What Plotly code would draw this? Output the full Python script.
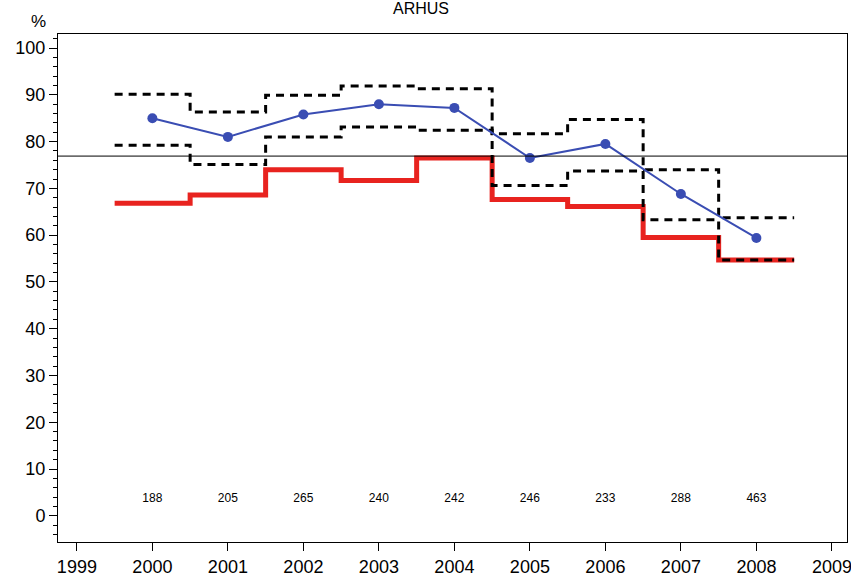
import plotly.graph_objects as go

years = [2000, 2001, 2002, 2003, 2004, 2005, 2006, 2007, 2008]
observed = [85.0, 81.0, 85.8, 88.0, 87.2, 76.5, 79.5, 68.8, 59.4]
upper = [90.1, 86.3, 89.9, 91.9, 91.3, 81.7, 84.7, 74.0, 63.7]
lower = [79.2, 75.1, 81.0, 83.1, 82.4, 70.6, 73.7, 63.3, 54.7]
expected = [66.8, 68.6, 74.0, 71.7, 76.5, 67.6, 66.1, 59.5, 54.7]
counts = [188, 205, 265, 240, 242, 246, 233, 288, 463]
reference = 76.9
count_y = 3.6
xticks = list(range(1999, 2010))
yticks = list(range(0, 101, 10))


def steps(vals):
    xs, ys = [], []
    for yr, v in zip(years, vals):
        xs += [yr - 0.5, yr + 0.5]
        ys += [v, v]
    return xs, ys


fig = go.Figure()

ex, ey = steps(expected)
fig.add_trace(go.Scatter(x=ex, y=ey, mode="lines",
                         line=dict(color="#e8231f", width=5), hoverinfo="skip"))
for arr in (upper, lower):
    sx, sy = steps(arr)
    fig.add_trace(go.Scatter(x=sx, y=sy, mode="lines",
                             line=dict(color="black", width=3, dash="8px,6px"),
                             hoverinfo="skip"))
fig.add_trace(go.Scatter(x=years, y=observed, mode="lines+markers",
                         line=dict(color="#3a4db3", width=2),
                         marker=dict(color="#3a4db3", size=10)))
fig.add_trace(go.Scatter(x=years, y=[count_y] * len(years), mode="text",
                         text=[str(c) for c in counts],
                         textfont=dict(family="Liberation Sans Narrow, Liberation Sans", size=12,
                                       color="black"),
                         textposition="middle center", hoverinfo="skip"))

fig.add_shape(type="line", xref="paper", x0=0, x1=1, yref="y", y0=reference, y1=reference,
              line=dict(color="black", width=1))

fig.update_layout(
    width=851, height=576,
    margin=dict(l=58, r=4, t=34, b=34),
    paper_bgcolor="white", plot_bgcolor="white",
    showlegend=False,
    font=dict(family="Liberation Sans, Arial", color="black", size=18),
    annotations=[
        dict(text="ARHUS", xref="paper", yref="paper", x=0.46, y=1.0, yshift=26,
             xanchor="center", yanchor="middle", showarrow=False,
             font=dict(size=16)),
        dict(text="%", xref="paper", yref="paper", x=0, xshift=-20, y=1.0, yshift=13,
             xanchor="center", yanchor="middle", showarrow=False,
             font=dict(size=17)),
    ],
)
fig.update_xaxes(range=[1998.75, 2009.2], tickmode="array", tickvals=xticks,
                 ticktext=[str(t) for t in xticks], automargin=False,
                 ticklabeloverflow="allow",
                 showgrid=False, zeroline=False, showline=True, linecolor="black",
                 linewidth=1, mirror=True, ticks="outside", ticklen=8, tickwidth=1,
                 tickcolor="black", tickfont=dict(size=18))
fig.update_yaxes(range=[-5.6, 103], tickmode="array", tickvals=yticks, automargin=False,
                 showgrid=False, zeroline=False, showline=True, linecolor="black",
                 linewidth=1, mirror=True, ticks="outside", ticklen=8, tickwidth=1,
                 tickcolor="black", tickfont=dict(size=18),
                 minor=dict(dtick=2, tick0=0, ticks="outside", ticklen=4, tickcolor="black",
                            showgrid=False))

fig.write_html("out.html", config={"displayModeBar": False},
               post_script="document.body.style.margin='0';document.body.style.overflow='hidden';")
